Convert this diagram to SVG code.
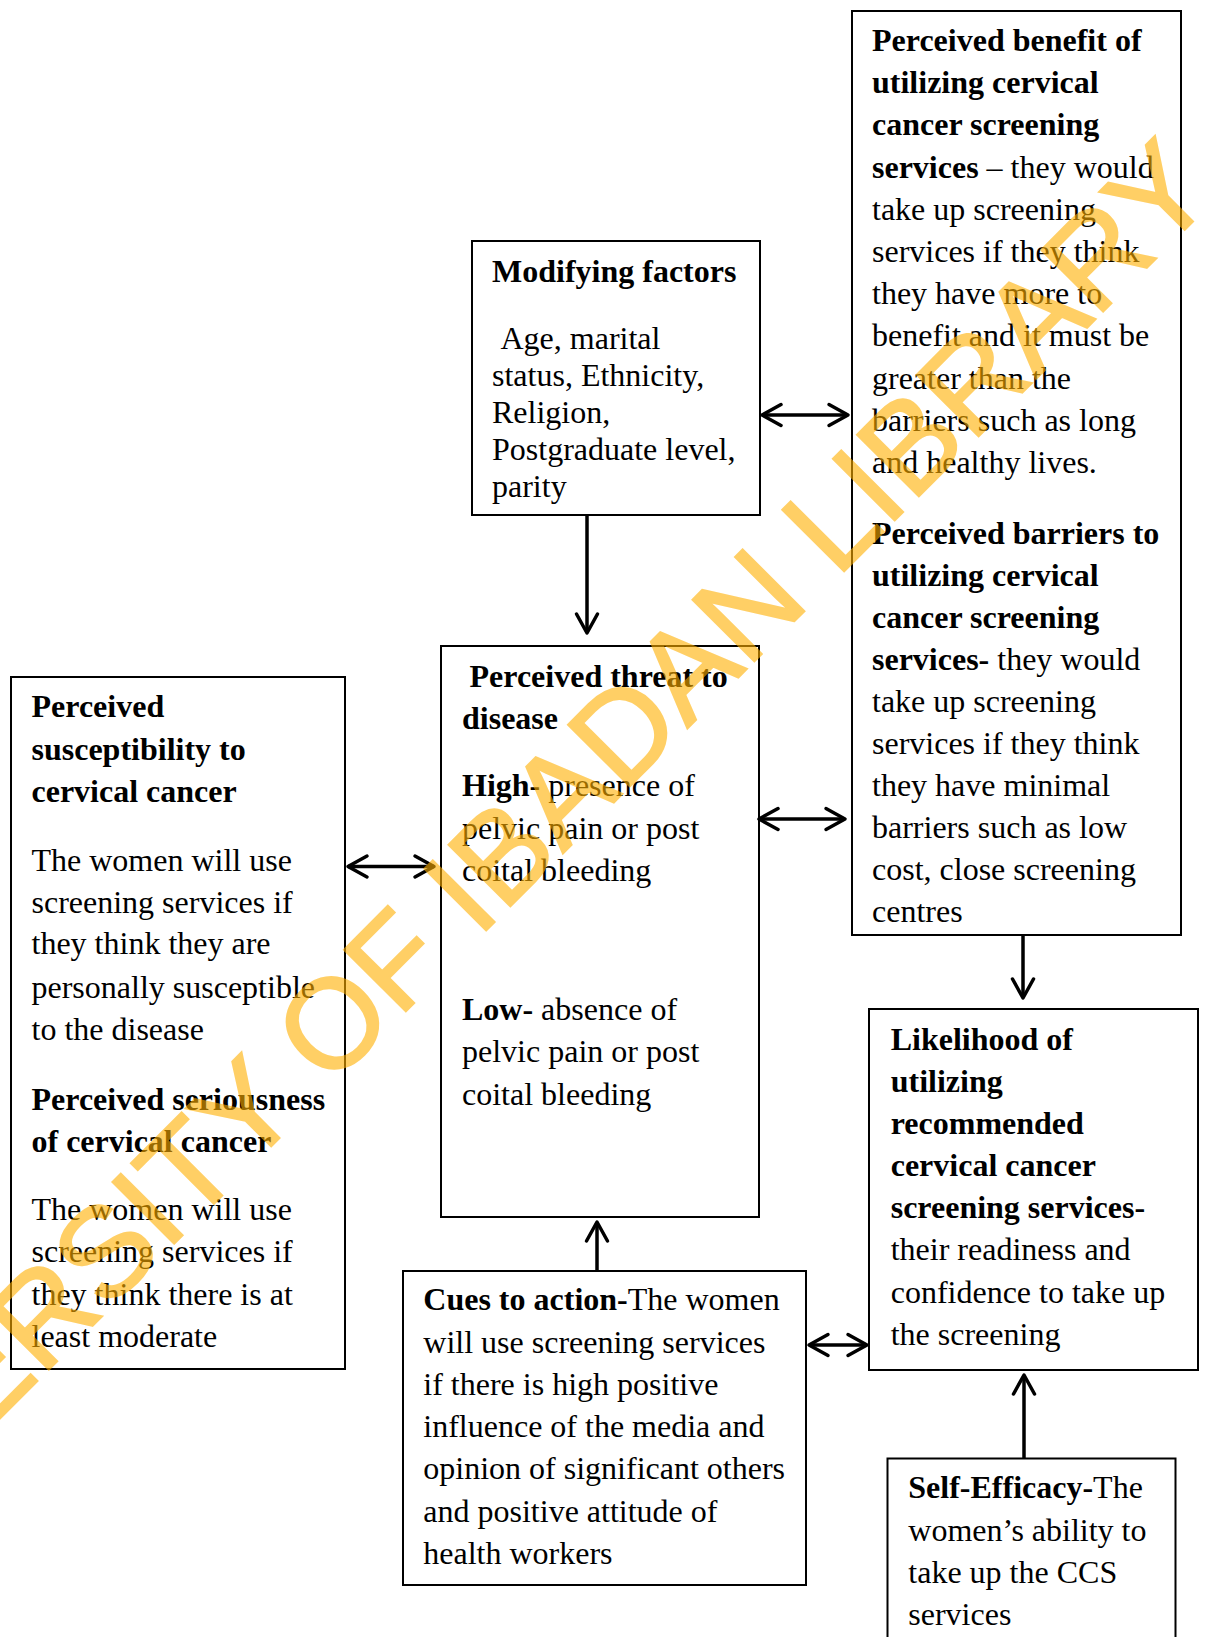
<svg xmlns="http://www.w3.org/2000/svg" width="1206" height="1637" viewBox="0 0 1206 1637">
<defs>
<style>
.box{fill:#fff;stroke:#000;stroke-width:2}
.t{font-family:"Liberation Serif","Times New Roman",serif;font-size:32px;fill:#000}
.b{font-weight:bold}
.con{stroke:#000;stroke-width:3.5;fill:none}
</style>
<marker id="ah" viewBox="-24 -14 28 28" markerWidth="28" markerHeight="28" refX="0" refY="0" markerUnits="userSpaceOnUse" orient="auto-start-reverse">
<path d="M-19,-10.5 L0,0 L-19,10.5" fill="none" stroke="#000" stroke-width="3.5" stroke-linejoin="round" stroke-linecap="round"/>
</marker>
</defs>
<rect width="1206" height="1637" fill="#fff"/>

<g id="benefit-barriers">
<rect class="box" x="852" y="11" width="329" height="924"/>
<text class="t">
<tspan x="872" y="51" class="b">Perceived benefit of</tspan>
<tspan x="872" y="93.2" class="b">utilizing cervical</tspan>
<tspan x="872" y="135.4" class="b">cancer screening</tspan>
<tspan x="872" y="177.6"><tspan class="b">services</tspan> – they would</tspan>
<tspan x="872" y="219.8">take up screening</tspan>
<tspan x="872" y="262">services if they think</tspan>
<tspan x="872" y="304.2">they have more to</tspan>
<tspan x="872" y="346.4">benefit and it must be</tspan>
<tspan x="872" y="388.6">greater than the</tspan>
<tspan x="872" y="430.8">barriers such as long</tspan>
<tspan x="872" y="473">and healthy lives.</tspan>
<tspan x="872" y="543.5" class="b">Perceived barriers to</tspan>
<tspan x="872" y="585.6" class="b">utilizing cervical</tspan>
<tspan x="872" y="627.7" class="b">cancer screening</tspan>
<tspan x="872" y="669.8"><tspan class="b">services-</tspan> they would</tspan>
<tspan x="872" y="711.9">take up screening</tspan>
<tspan x="872" y="754">services if they think</tspan>
<tspan x="872" y="796.1">they have minimal</tspan>
<tspan x="872" y="838.2">barriers such as low</tspan>
<tspan x="872" y="880.3">cost, close screening</tspan>
<tspan x="872" y="922.4">centres</tspan>
</text>
</g>

<g id="modifying">
<rect class="box" x="472" y="241" width="288" height="274"/>
<text class="t">
<tspan x="492" y="282" class="b">Modifying factors</tspan>
<tspan x="500.5" y="349.3">Age, marital</tspan>
<tspan x="492" y="386.1">status, Ethnicity,</tspan>
<tspan x="492" y="422.9">Religion,</tspan>
<tspan x="492" y="459.7">Postgraduate level,</tspan>
<tspan x="492" y="496.5">parity</tspan>
</text>
</g>

<g id="threat">
<rect class="box" x="441" y="646" width="318" height="571"/>
<text class="t">
<tspan x="469.5" y="687" class="b">Perceived threat to</tspan>
<tspan x="462" y="729" class="b">disease</tspan>
<tspan x="462" y="796"><tspan class="b">High-</tspan> presence of</tspan>
<tspan x="462" y="839">pelvic pain or post</tspan>
<tspan x="462" y="881">coital bleeding</tspan>
<tspan x="462" y="1019.5"><tspan class="b">Low-</tspan> absence of</tspan>
<tspan x="462" y="1062">pelvic pain or post</tspan>
<tspan x="462" y="1105">coital bleeding</tspan>
</text>
</g>

<g id="susceptibility">
<rect class="box" x="11" y="677" width="334" height="692"/>
<text class="t">
<tspan x="31.5" y="717.4" class="b">Perceived</tspan>
<tspan x="31.5" y="760" class="b">susceptibility to</tspan>
<tspan x="31.5" y="802" class="b">cervical cancer</tspan>
<tspan x="31.5" y="871">The women will use</tspan>
<tspan x="31.5" y="912.5">screening services if</tspan>
<tspan x="31.5" y="954">they think they are</tspan>
<tspan x="31.5" y="997.5">personally susceptible</tspan>
<tspan x="31.5" y="1040">to the disease</tspan>
<tspan x="31.5" y="1110" class="b">Perceived seriousness</tspan>
<tspan x="31.5" y="1152" class="b">of cervical cancer</tspan>
<tspan x="31.5" y="1220">The women will use</tspan>
<tspan x="31.5" y="1262">screening services if</tspan>
<tspan x="31.5" y="1305">they think there is at</tspan>
<tspan x="31.5" y="1347">least moderate</tspan>
</text>
</g>

<g id="cues">
<rect class="box" x="403" y="1271" width="403" height="314"/>
<text class="t">
<tspan x="423.3" y="1310"><tspan class="b">Cues to action-</tspan>The women</tspan>
<tspan x="423.3" y="1352.7">will use screening services</tspan>
<tspan x="423.3" y="1395">if there is high positive</tspan>
<tspan x="423.3" y="1437">influence of the media and</tspan>
<tspan x="423.3" y="1479">opinion of significant others</tspan>
<tspan x="423.3" y="1521.7">and positive attitude of</tspan>
<tspan x="423.3" y="1564">health workers</tspan>
</text>
</g>

<g id="likelihood">
<rect class="box" x="869" y="1009" width="329" height="361"/>
<text class="t">
<tspan x="890.7" y="1050" class="b">Likelihood of</tspan>
<tspan x="890.7" y="1092" class="b">utilizing</tspan>
<tspan x="890.7" y="1134" class="b">recommended</tspan>
<tspan x="890.7" y="1176" class="b">cervical cancer</tspan>
<tspan x="890.7" y="1218" class="b">screening services-</tspan>
<tspan x="890.7" y="1260">their readiness and</tspan>
<tspan x="890.7" y="1303">confidence to take up</tspan>
<tspan x="890.7" y="1345">the screening</tspan>
</text>
</g>

<g id="self-efficacy">
<rect class="box" x="887.5" y="1458.5" width="288" height="200"/>
<text class="t">
<tspan x="908.3" y="1498"><tspan class="b">Self-Efficacy-</tspan>The</tspan>
<tspan x="908.3" y="1541">women’s ability to</tspan>
<tspan x="908.3" y="1583">take up the CCS</tspan>
<tspan x="908.3" y="1625">services</tspan>
</text>
</g>

<g id="connectors">
<line class="con" x1="762" y1="415" x2="848" y2="415" marker-start="url(#ah)" marker-end="url(#ah)"/>
<line class="con" x1="587" y1="515" x2="587" y2="633" marker-end="url(#ah)"/>
<line class="con" x1="348" y1="866.5" x2="434" y2="866.5" marker-start="url(#ah)" marker-end="url(#ah)"/>
<line class="con" x1="759" y1="819" x2="845" y2="819" marker-start="url(#ah)" marker-end="url(#ah)"/>
<line class="con" x1="1023" y1="935" x2="1023" y2="998" marker-end="url(#ah)"/>
<line class="con" x1="597" y1="1271" x2="597" y2="1222" marker-end="url(#ah)"/>
<line class="con" x1="809" y1="1345" x2="867" y2="1345" marker-start="url(#ah)" marker-end="url(#ah)"/>
<line class="con" x1="1024" y1="1458" x2="1024" y2="1375" marker-end="url(#ah)"/>
</g>

<g id="watermark" opacity="0.6">
<text transform="translate(330.3,1087.1) rotate(-45.1)" x="-797.4" y="0" font-family="Liberation Sans, Arial, sans-serif" font-size="127" fill="#FFB000" stroke="#FFB000" stroke-width="2">UNIVERSITY OF IBADAN LIBRARY</text>
</g>
</svg>
